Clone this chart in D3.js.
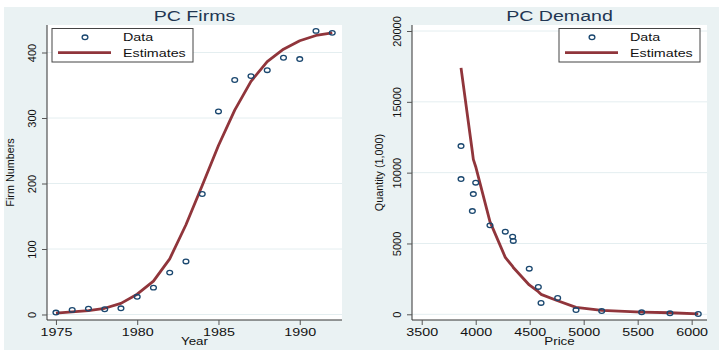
<!DOCTYPE html>
<html>
<head>
<meta charset="utf-8">
<script src="https://cdn.jsdelivr.net/npm/d3@7"></script>
<style>
  html, body { margin: 0; padding: 0; background: #ffffff; }
  svg { display: block; font-family: "Liberation Sans", Arial, Helvetica, sans-serif; }
</style>
</head>
<body>
<svg id="chart" width="719" height="350"></svg>
<script>
// ---- PC Firms: number of firms by year ----
const years = [1975, 1976, 1977, 1978, 1979, 1980, 1981, 1982, 1983,
               1984, 1985, 1986, 1987, 1988, 1989, 1990, 1991, 1992];
const firmsData = [3, 7, 9, 8, 9.5, 27, 41, 64, 81,
                   184, 310, 358, 364, 373, 392, 390, 433, 430];
const firmsEstimate = [2, 4, 6, 9.5, 17, 31, 51, 85, 137,
                       197, 258, 312, 356, 386, 405, 418, 426, 430];
const yearTicks = [1975, 1980, 1985, 1990];
const firmTicks = [0, 100, 200, 300, 400];

// ---- PC Demand: quantity (1,000) by price ----
const demandPrice = [3864, 3864, 3969, 3978, 4000, 4132, 4274, 4342, 4348,
                     4496, 4580, 4605, 4759, 4929, 5167, 5537, 5799, 6061];
const demandQty = [11880, 9550, 7290, 8490, 9290, 6280, 5830, 5480, 5180,
                   3220, 1930, 800, 1150, 300, 230, 140, 70, 20];
const estimatePrice = [3864, 3969, 3978, 4000, 4132, 4274, 4342, 4348,
                       4496, 4580, 4605, 4759, 4929, 5167, 5537, 5799, 6061];
const estimateQty = [17400, 11480, 10940, 10420, 6540, 4020, 3380, 3300,
                     2070, 1600, 1410, 960, 490, 280, 160, 110, 30];
const priceTicks = [3500, 4000, 4500, 5000, 5500, 6000];
const qtyTicks = [0, 5000, 10000, 15000, 20000];

const legendLabels = ["Data", "Estimates"];

// ---- styling ----
const BG = "#eaf2f3";
const MARKER = "#1a476f";
const LINE = "#90353b";
const TITLE = "#1f3652";
const TEXT = "#111111";
const SX = 1.3;          // horizontal widening of the lettering

const svg = d3.select("#chart");

// outer graph region
svg.append("rect").attr("x", 0).attr("y", 0).attr("width", 719).attr("height", 350).attr("fill", "#ffffff");
svg.append("rect").attr("x", 4).attr("y", 7).attr("width", 715).attr("height", 343).attr("fill", BG);

function wideText(g, x, y, str, size, sx, anchor, fill) {
  return g.append("text")
    .attr("transform", `translate(${x},${y}) scale(${sx},1)`)
    .attr("text-anchor", anchor)
    .attr("font-size", size)
    .attr("fill", fill)
    .text(str);
}

function marker(g, cx, cy) {
  g.append("ellipse")
    .attr("cx", cx).attr("cy", cy)
    .attr("rx", 2.9).attr("ry", 2.3)
    .attr("fill", "none")
    .attr("stroke", MARKER)
    .attr("stroke-width", 1.3);
}

function panel(cfg) {
  const { left, right, top, bottom } = cfg.box;
  const g = svg.append("g");

  const x = d3.scaleLinear().domain(cfg.xDomain).range([left, right]);
  const y = d3.scaleLinear().domain(cfg.yDomain).range([bottom, top]);

  // plot region
  g.append("rect").attr("x", left).attr("y", top)
    .attr("width", right - left).attr("height", bottom - top)
    .attr("fill", "#ffffff");

  // horizontal grid lines
  g.append("g").selectAll("line").data(cfg.yTicks).join("line")
    .attr("x1", left).attr("x2", right)
    .attr("y1", d => y(d)).attr("y2", d => y(d))
    .attr("stroke", "#e4eef0").attr("stroke-width", 1);

  // y axis
  const ya = g.append("g").attr("transform", `translate(${left},0)`)
    .call(d3.axisLeft(y).tickValues(cfg.yTicks).tickSize(5).tickSizeOuter(0).tickFormat(d3.format("d")));
  ya.select(".domain").attr("stroke", "#333").attr("d", `M0,${top}V${bottom}`);
  ya.selectAll(".tick line").attr("stroke", "#555");
  ya.selectAll(".tick text")
    .attr("x", null).attr("y", null).attr("dy", null)
    .attr("transform", "translate(-11.5,0) rotate(-90)")
    .attr("text-anchor", "middle")
    .attr("font-size", 11)
    .attr("font-family", "Liberation Sans, Arial, sans-serif")
    .attr("fill", TEXT);

  // x axis
  const xa = g.append("g").attr("transform", `translate(0,${bottom})`)
    .call(d3.axisBottom(x).tickValues(cfg.xTicks).tickSize(5).tickSizeOuter(0).tickFormat(d3.format("d")));
  xa.select(".domain").attr("stroke", "#333").attr("d", `M${left},0H${right}`);
  xa.selectAll(".tick line").attr("stroke", "#555");
  xa.selectAll(".tick text")
    .attr("y", 16).attr("dy", null)
    .attr("transform", `scale(${SX},1)`)
    .attr("text-anchor", "middle")
    .attr("font-size", 11)
    .attr("font-family", "Liberation Sans, Arial, sans-serif")
    .attr("fill", TEXT);

  // estimates line
  const line = d3.line().x(d => x(d[0])).y(d => y(d[1]));
  g.append("path")
    .datum(d3.zip(cfg.estX, cfg.estY))
    .attr("d", line)
    .attr("fill", "none")
    .attr("stroke", LINE)
    .attr("stroke-width", 2.8)
    .attr("stroke-linejoin", "round");

  // data markers
  d3.zip(cfg.dataX, cfg.dataY).forEach(d => marker(g, x(d[0]), y(d[1])));

  // title
  wideText(g, (left + right) / 2, 20.7, cfg.title, 14, 1.4, "middle", TITLE);

  // axis titles
  wideText(g, (left + right) / 2, 345, cfg.xTitle, 10.5, 1.27, "middle", TEXT);
  g.append("text")
    .attr("transform", `translate(${cfg.yTitleX},${(top + bottom) / 2}) rotate(-90)`)
    .attr("text-anchor", "middle")
    .attr("font-size", 10.8)
    .attr("fill", TEXT)
    .text(cfg.yTitle);

  // legend
  const L = cfg.legendX;
  const lg = g.append("g");
  lg.append("rect").attr("x", L).attr("y", 28.5)
    .attr("width", 141).attr("height", 33.5)
    .attr("fill", "#ffffff").attr("stroke", "#444").attr("stroke-width", 1);
  marker(lg, L + 33, 37.3);
  lg.append("line").attr("x1", L + 6).attr("x2", L + 59)
    .attr("y1", 52.7).attr("y2", 52.7)
    .attr("stroke", LINE).attr("stroke-width", 2.8);
  wideText(lg, L + 71, 40.7, legendLabels[0], 11, SX, "start", TEXT);
  wideText(lg, L + 71, 56.7, legendLabels[1], 11, SX, "start", TEXT);
}

panel({
  box: { left: 47, right: 342, top: 25, bottom: 320 },
  xDomain: [1974.45, 1992.6],
  yDomain: [-8.4, 442],
  xTicks: yearTicks,
  yTicks: firmTicks,
  dataX: years, dataY: firmsData,
  estX: years, estY: firmsEstimate,
  title: "PC Firms",
  xTitle: "Year",
  yTitle: "Firm Numbers",
  yTitleX: 14,
  legendX: 52
});

panel({
  box: { left: 412, right: 707, top: 25, bottom: 320 },
  xDomain: [3410, 6142],
  yDomain: [-402, 20424],
  xTicks: priceTicks,
  yTicks: qtyTicks,
  dataX: demandPrice, dataY: demandQty,
  estX: estimatePrice, estY: estimateQty,
  title: "PC Demand",
  xTitle: "Price",
  yTitle: "Quantity (1,000)",
  yTitleX: 382.5,
  legendX: 559
});
</script>
</body>
</html>
